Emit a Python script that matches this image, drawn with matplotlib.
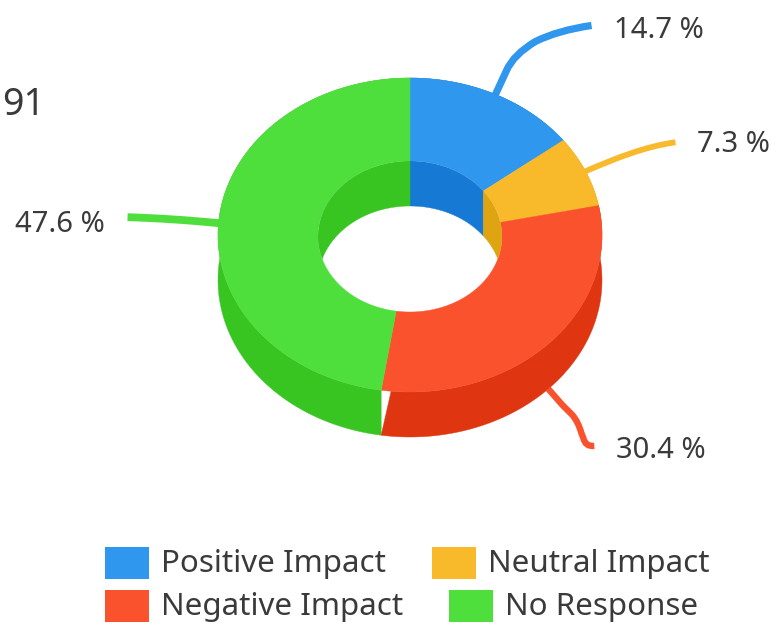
import numpy as np
import matplotlib
matplotlib.use("Agg")
import matplotlib.pyplot as plt
from matplotlib.patches import Ellipse, PathPatch, Polygon, Rectangle
from matplotlib.path import Path

#
# chart data
#
categories = ['Positive Impact', 'Neutral Impact', 'Negative Impact', 'No Response']
values = [14.7, 7.3, 30.4, 47.6]
value_labels = ['14.7 %', '7.3 %', '30.4 %', '47.6 %']
cut_off_label = '91'

# colours
face_colors = ['#3097EE', '#F8BA2B', '#F9522C', '#4FDF3C']
wall_colors = ['#167AD4', '#DFA411', '#DF3511', '#38C522']
TEXT_COLOR = '#3A3A3A'

# donut geometry (pixels)
CX, CY = 410, 235
RX, RY = 192, 157
IN_CY = 236.5
IN_RX, IN_RY = 92, 75.5
DEPTH = 45
N_PTS = 200

plt.rcParams['font.family'] = ['Noto Sans', 'DejaVu Sans']

fig = plt.figure(figsize=(7.77, 6.23), dpi=100)
ax = fig.add_axes([0, 0, 1, 1])
ax.set_xlim(0, 777)
ax.set_ylim(623, 0)
ax.axis('off')


def arc(t0, t1, rx, ry, cy, dy=0):
    """
    Points on an ellipse, angles in degrees clockwise from 12 o'clock
    """
    t = np.radians(np.linspace(t0, t1, N_PTS))
    return np.column_stack([CX + rx * np.sin(t), cy + dy - ry * np.cos(t)])


# slice limits from the values
shares = np.array(values) / np.sum(values)
ends = np.cumsum(shares) * 360
starts = np.concatenate([[0], ends[:-1]])

# outer wall
for i in range(len(values)):
    # the boundary to the red wall leans a bit at the top
    top0 = starts[i]
    top1 = ends[i]
    if i == 2:
        top1 = ends[i] - 3
    pts = np.vstack([arc(top0, top1, RX, RY, CY),
                     arc(ends[i], starts[i], RX, RY, CY, DEPTH)])
    ax.add_patch(Polygon(pts, closed=True, fc=wall_colors[i], ec=wall_colors[i], lw=0.3, zorder=1 if i == 3 else 2))

# top face
for i in range(len(values)):
    pts = np.vstack([arc(starts[i], ends[i], RX, RY, CY),
                     arc(ends[i], starts[i], IN_RX, IN_RY, IN_CY)])
    ax.add_patch(Polygon(pts, closed=True, fc=face_colors[i], ec=face_colors[i], lw=0.3, zorder=3))

# inner wall, only the back half shows. the yellow one runs up to the side of the hole
inner_ranges = [(starts[0], ends[0]), (starts[1], 90), None, (270, ends[3])]
hole = Ellipse((CX, IN_CY), 2 * IN_RX, 2 * IN_RY, fc='none', ec='none', transform=ax.transData)
ax.add_patch(hole)
for i, rng in enumerate(inner_ranges):
    if rng is None:
        continue
    pts = np.vstack([arc(rng[0], rng[1], IN_RX, IN_RY, IN_CY),
                     arc(rng[1], rng[0], IN_RX, IN_RY, IN_CY, DEPTH)])
    wall = Polygon(pts, closed=True, fc=wall_colors[i], ec=wall_colors[i], lw=0.3, zorder=4)
    ax.add_patch(wall)
    wall.set_clip_path(hole)

# leader lines: start on the rim at the middle of the slice, offsets to the end
leader_offsets = [
    [(13, -29), (26, -56), (97, -68)],
    [(30, -13), (60, -25), (90, -29)],
    [(15, 15), (30, 30)],
    [(-30, -3), (-60, -5), (-91, -6)],
]
leader_widths = [5.2, 4.2, 4.6, 5.6]
mids = (starts + ends) / 2
for i, offs in enumerate(leader_offsets):
    t = np.radians(mids[i])
    x0 = CX + RX * np.sin(t)
    y0 = CY - RY * np.cos(t)
    if i == 2:
        # this one comes out of the wall
        y0 = y0 + DEPTH
        verts = [(x0, y0), (x0 + 14, y0 + 16), (x0 + 24, y0 + 26), (x0 + 30, y0 + 33),
                 (x0 + 33, y0 + 44), (x0 + 35, y0 + 49), (x0 + 37, y0 + 58), (x0 + 46, y0 + 57)]
        codes = [Path.MOVETO, Path.LINETO, Path.LINETO, Path.CURVE3, Path.CURVE3,
                 Path.LINETO, Path.CURVE3, Path.CURVE3]
    elif i == 0:
        verts = [(x0 - 1, y0 + 2), (x0 + 11, y0 - 24), (x0 + 18, y0 - 40), (x0 + 40, y0 - 53),
                 (x0 + 62, y0 - 64), (x0 + 96, y0 - 69)]
        codes = [Path.MOVETO, Path.LINETO, Path.CURVE3, Path.CURVE3, Path.CURVE3, Path.CURVE3]
    else:
        verts = [(x0, y0)] + [(x0 + dx, y0 + dy) for dx, dy in offs]
        codes = [Path.MOVETO, Path.CURVE4, Path.CURVE4, Path.CURVE4]
    ax.add_patch(PathPatch(Path(verts, codes), fc='none', ec=face_colors[i], lw=leader_widths[i],
                           capstyle='butt', zorder=0))

# value labels
label_pos = [(614, 30), (697, 144), (616, 451), (15, 225)]
for lab, (x, y) in zip(value_labels, label_pos):
    ax.text(x, y, lab, color=TEXT_COLOR, fontsize=21, fontweight=600, ha='left', va='center')

ax.text(2, 105, cut_off_label, color=TEXT_COLOR, fontsize=27, fontweight=300, ha='left', va='center')

# legend
swatch_pos = [(105, 547), (432, 547), (105, 590), (449, 590)]
for i, (x, y) in enumerate(swatch_pos):
    ax.add_patch(Rectangle((x, y), 43.5, 32, fc=face_colors[i], ec='none', zorder=2))
    ax.text(x + 56, y + 17, categories[i], color=TEXT_COLOR, fontsize=22.5, fontweight=300, ha='left', va='center')

fig.savefig('out.png', dpi=100)
